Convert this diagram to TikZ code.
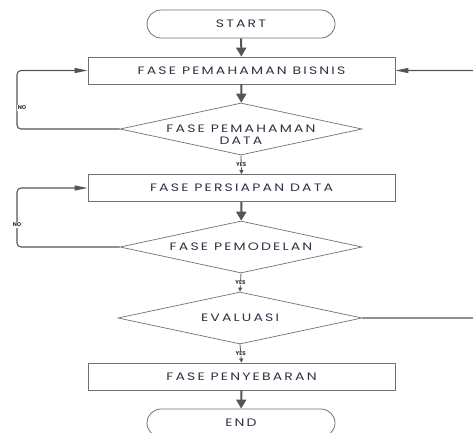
\documentclass[tikz,border=0pt]{standalone}
\usepackage{fontspec}
\setmainfont{Poppins}
\newfontfamily\wideff{Poppins}[FakeStretch=1.3, LetterSpace=20]
\usetikzlibrary{shapes.geometric,arrows.meta}
\definecolor{txtc}{HTML}{2E3444}
\definecolor{linec}{HTML}{555555}
\definecolor{edgec}{HTML}{707070}
\tikzset{
  term/.style={draw=edgec, line width=0.8pt, rounded corners=14pt, minimum width=188pt, minimum height=28pt, inner sep=0pt, font=\wideff\fontsize{10.8}{12}\selectfont, text=txtc},
  proc/.style={draw=edgec, line width=0.8pt, minimum width=307pt, minimum height=27pt, inner sep=0pt, font=\wideff\fontsize{10.8}{12}\selectfont, text=txtc},
  dia/.style={draw=edgec, line width=0.7pt, diamond, minimum width=242pt, minimum height=52pt, inner sep=0pt},
  dlbl/.style={font=\wideff\fontsize{10.8}{12}\selectfont, text=txtc, align=center},
  mainarrow/.style={draw=linec, line width=2pt, -{Triangle[length=9pt,width=10pt]}},
  looparrow/.style={draw=linec, line width=1.1pt, rounded corners=4pt, -{Triangle[length=13pt,width=5pt]}},
  yesarrow/.style={draw=linec, line width=0.8pt, -{Triangle[length=4pt,width=4pt]}},
  small/.style={font=\fontsize{5.5}{6}\selectfont\bfseries, text=txtc, fill=white, inner sep=0.6pt}
}
\begin{document}
\begin{tikzpicture}[x=1pt,y=-1pt]
\useasboundingbox (0,0) rectangle (473,432);
\node[term] (start) at (241,24) {START};
\node[proc] (bisnis) at (241.5,70.5) {FASE PEMAHAMAN BISNIS};
\node[dia, label={[dlbl, yshift=-6pt]center:FASE PEMAHAMAN\\DATA}] (d1) at (241,129) {};
\node[proc] (persiapan) at (241.5,188) {FASE PERSIAPAN DATA};
\node[dia, label={[dlbl]center:FASE PEMODELAN}] (d2) at (241,247) {};
\node[dia, minimum width=244pt, label={[dlbl]center:EVALUASI}] (d3) at (240,318) {};
\node[proc] (penyebaran) at (241.5,376.5) {FASE PENYEBARAN};
\node[term] (end) at (241,423) {END};

\coordinate (l1) at (17,129);
\coordinate (l2) at (17,247);
\coordinate (r1) at (480,318);
\coordinate (r2) at (480,70.5);

\draw[mainarrow] (start) -- (bisnis);
\draw[mainarrow] (bisnis) -- (d1);
\draw[mainarrow] (persiapan) -- (d2);
\draw[mainarrow] (penyebaran) -- (end);

\draw[yesarrow] (d1.south) -- node[small]{YES} (persiapan.north);
\draw[yesarrow] (d2.south) -- node[small]{YES} (d3.north);
\draw[yesarrow] (d3.south) -- node[small]{YES} (penyebaran.north);

\draw[looparrow] (d1.west) -- (l1) -- (l1 |- bisnis) -- (bisnis.west);
\draw[looparrow] (d2.west) -- (l2) -- (l2 |- persiapan) -- (persiapan.west);
\draw[looparrow] (d3.east) -- (r1) -- (r2) -- (bisnis.east);

\node[small] (no1) at (22,108) {NO};
\node[small] (no2) at (17,225) {NO};
\node[small] (no3) at (478,202) {NO};
\end{tikzpicture}
\end{document}
